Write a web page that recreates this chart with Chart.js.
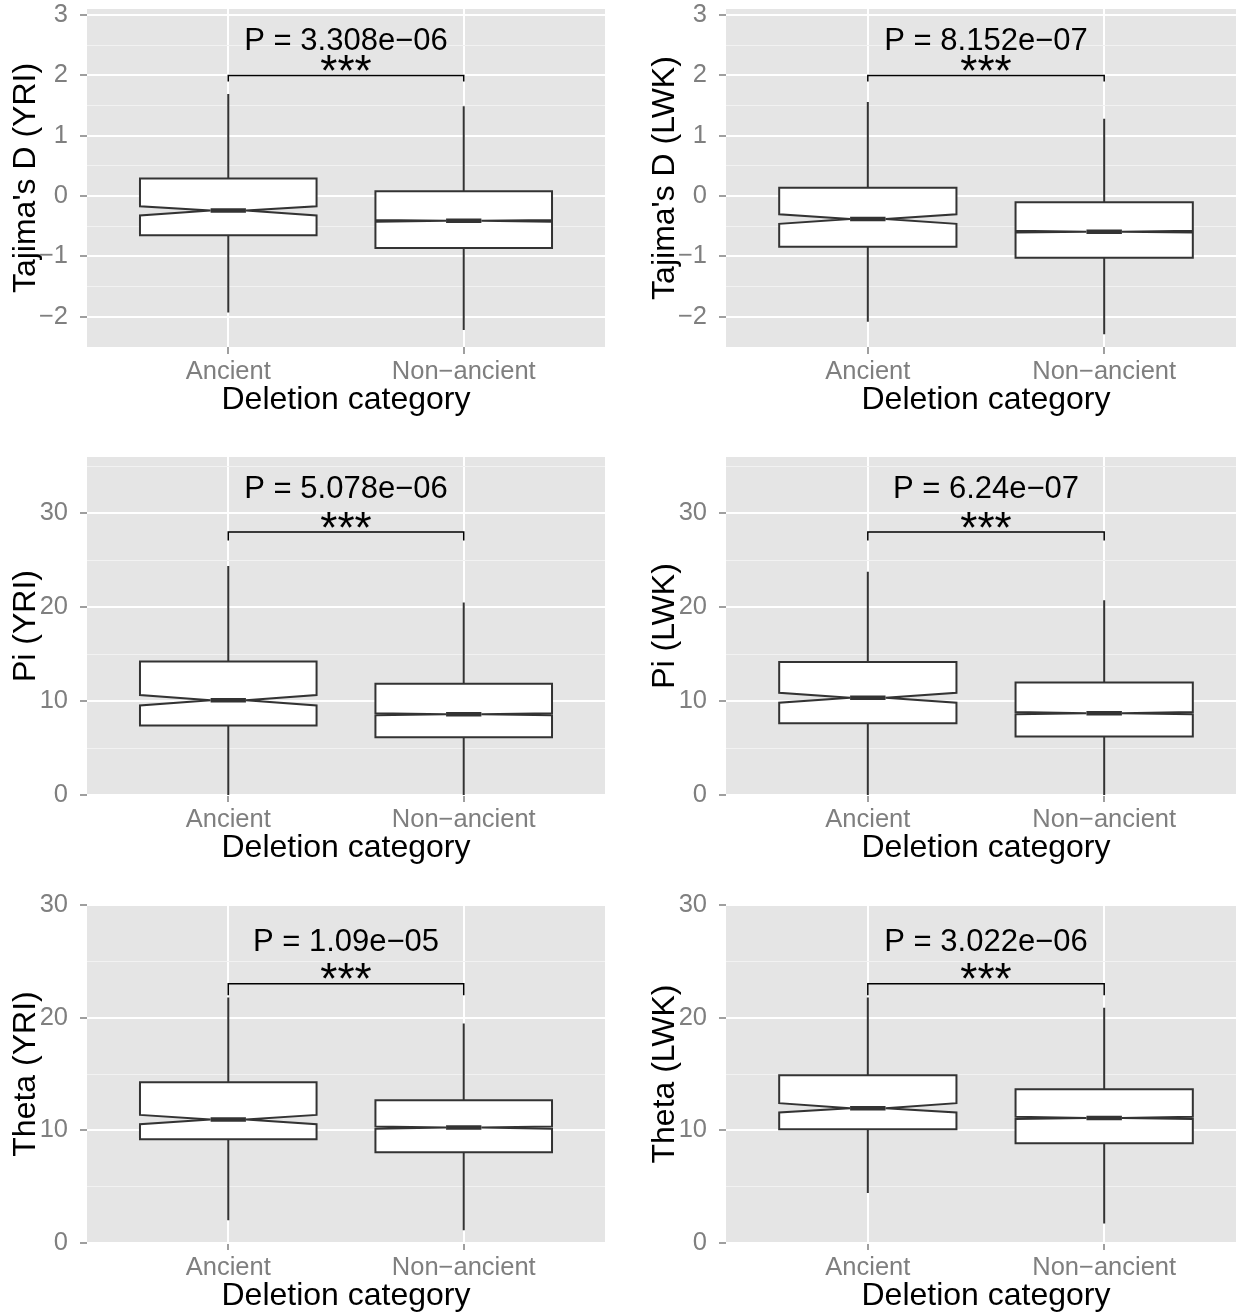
<!DOCTYPE html>
<html>
<head>
<meta charset="utf-8">
<script src="https://cdn.jsdelivr.net/npm/chart.js@4.4.1/dist/chart.umd.min.js"></script>
<style>
  html, body { margin: 0; padding: 0; background: #ffffff; }
  body { width: 1236px; height: 1314px; overflow: hidden; position: relative; }
  canvas { position: absolute; }
</style>
</head>
<body>
<script>
// categories + tick labels
const categories = ["Ancient", "Non\u2212ancient"];
const tajimaTicks = [-2, -1, 0, 1, 2, 3];
const tajimaMinor = [-1.5, -0.5, 0.5, 1.5, 2.5];
const piTicks = [0, 10, 20, 30];
const piMinor = [5, 15, 25, 35];
const thetaTicks = [0, 10, 20, 30];
const thetaMinor = [5, 15, 25];

// box stats: [lower whisker, Q1, notch low, median, notch high, Q3, upper whisker]
const tajimaYriAncient = [-1.93, -0.65, -0.32, -0.24, -0.17, 0.29, 1.69];
const tajimaYriNon = [-2.22, -0.86, -0.425, -0.41, -0.395, 0.08, 1.49];
const tajimaLwkAncient = [-2.08, -0.84, -0.46, -0.38, -0.3, 0.14, 1.56];
const tajimaLwkNon = [-2.29, -1.02, -0.605, -0.59, -0.575, -0.1, 1.28];
const piYriAncient = [0, 7.4, 9.54, 10.1, 10.64, 14.23, 24.4];
const piYriNon = [0, 6.16, 8.5, 8.61, 8.72, 11.85, 20.5];
const piLwkAncient = [0, 7.65, 9.82, 10.36, 10.89, 14.16, 23.77];
const piLwkNon = [0, 6.23, 8.6, 8.72, 8.84, 11.99, 20.75];
const thetaYriAncient = [2.01, 9.21, 10.54, 10.96, 11.37, 14.27, 21.8];
const thetaYriNon = [1.13, 8.05, 10.15, 10.25, 10.35, 12.67, 19.48];
const thetaLwkAncient = [4.44, 10.1, 11.58, 11.96, 12.41, 14.9, 21.8];
const thetaLwkNon = [1.72, 8.85, 11.0, 11.1, 11.2, 13.65, 20.88];

// p-values of the test between the two categories
const pLabels = ["P = 3.308e\u221206", "P = 8.152e\u221207", "P = 5.078e\u221206",
                 "P = 6.24e\u221207", "P = 1.09e\u221205", "P = 3.022e\u221206"];
const starLabel = "***";

const FONT = "'Liberation Sans', Arial, Helvetica, sans-serif";
Chart.defaults.font.family = FONT;

const panels = [
  { title: "Tajima's D (YRI)", boxes: [tajimaYriAncient, tajimaYriNon], p: pLabels[0], major: tajimaTicks, minor: tajimaMinor, min: -2.5, max: 3.1, bracket: 2, drop: 0.1, starY: 2.16, pY: 2.61 },
  { title: "Tajima's D (LWK)", boxes: [tajimaLwkAncient, tajimaLwkNon], p: pLabels[1], major: tajimaTicks, minor: tajimaMinor, min: -2.5, max: 3.1, bracket: 2, drop: 0.1, starY: 2.16, pY: 2.61 },
  { title: "Pi (YRI)", boxes: [piYriAncient, piYriNon], p: pLabels[2], major: piTicks, minor: piMinor, min: 0, max: 36, bracket: 28, drop: 0.9, starY: 29.0, pY: 32.8 },
  { title: "Pi (LWK)", boxes: [piLwkAncient, piLwkNon], p: pLabels[3], major: piTicks, minor: piMinor, min: 0, max: 36, bracket: 28, drop: 0.9, starY: 29.0, pY: 32.8 },
  { title: "Theta (YRI)", boxes: [thetaYriAncient, thetaYriNon], p: pLabels[4], major: thetaTicks, minor: thetaMinor, min: 0, max: 30, bracket: 23, drop: 1.0, starY: 23.84, pY: 26.86 },
  { title: "Theta (LWK)", boxes: [thetaLwkAncient, thetaLwkNon], p: pLabels[5], major: thetaTicks, minor: thetaMinor, min: 0, max: 30, bracket: 23, drop: 1.0, starY: 23.84, pY: 26.86 },
];

function fmt(v) {
  return v < 0 ? "\u2212" + Math.abs(v) : String(v);
}

// grey panel + notched boxes + significance bracket
const boxPlugin = {
  id: "notchedBox",
  beforeDraw(chart) {
    const a = chart.chartArea;
    const ctx = chart.ctx;
    ctx.save();
    ctx.fillStyle = "#E5E5E5";
    ctx.fillRect(a.left, a.top, a.right - a.left, a.bottom - a.top);
    ctx.restore();
  },
  afterDatasetsDraw(chart) {
    const cfg = chart.options.plugins.notchedBox;
    const xs = chart.scales.x;
    const ys = chart.scales.y;
    const ctx = chart.ctx;
    ctx.save();
    cfg.boxes.forEach((b, i) => {
      const xc = xs.getPixelForValue(i + 1);
      const hw = xs.getPixelForValue(i + 1 + 0.375) - xc;
      const nw = hw * 0.2;
      const xl = xc - hw, xr = xc + hw;
      const y = b.map((v) => ys.getPixelForValue(v));
      ctx.strokeStyle = "#333333";
      ctx.lineWidth = 2;
      // whiskers
      ctx.beginPath();
      ctx.moveTo(xc, y[6]); ctx.lineTo(xc, y[5]);
      ctx.moveTo(xc, y[1]); ctx.lineTo(xc, y[0]);
      ctx.stroke();
      // notched box
      ctx.beginPath();
      ctx.moveTo(xl, y[5]);
      ctx.lineTo(xr, y[5]);
      ctx.lineTo(xr, y[4]);
      ctx.lineTo(xc + nw, y[3]);
      ctx.lineTo(xr, y[2]);
      ctx.lineTo(xr, y[1]);
      ctx.lineTo(xl, y[1]);
      ctx.lineTo(xl, y[2]);
      ctx.lineTo(xc - nw, y[3]);
      ctx.lineTo(xl, y[4]);
      ctx.closePath();
      ctx.fillStyle = "#FFFFFF";
      ctx.fill();
      ctx.stroke();
      // median
      ctx.lineWidth = 4.5;
      ctx.beginPath();
      ctx.moveTo(xc - nw, y[3]);
      ctx.lineTo(xc + nw, y[3]);
      ctx.stroke();
    });
    // bracket
    const x1 = xs.getPixelForValue(1);
    const x2 = xs.getPixelForValue(2);
    const yb = ys.getPixelForValue(cfg.bracket);
    const yd = ys.getPixelForValue(cfg.bracket - cfg.drop);
    ctx.strokeStyle = "#000000";
    ctx.lineWidth = 1.5;
    ctx.beginPath();
    ctx.moveTo(x1, yd); ctx.lineTo(x1, yb); ctx.lineTo(x2, yb); ctx.lineTo(x2, yd);
    ctx.stroke();
    // labels
    const xm = (x1 + x2) / 2;
    ctx.fillStyle = "#000000";
    ctx.textAlign = "center";
    ctx.textBaseline = "alphabetic";
    ctx.font = "31px " + FONT;
    ctx.fillText(cfg.p, xm, ys.getPixelForValue(cfg.pY) + 31 * 0.358);
    ctx.font = "44px " + FONT;
    ctx.fillText(starLabel, xm, ys.getPixelForValue(cfg.starY) + 44 * 0.45);
    ctx.restore();
  },
};

panels.forEach((pn, k) => {
  const col = k % 2;
  const row = Math.floor(k / 2);
  const cv = document.createElement("canvas");
  const w = col === 0 ? 618 : 628;
  cv.width = w;
  cv.height = 468;
  cv.style.left = (col === 0 ? 0 : 618) + "px";
  cv.style.top = row * 448 - 20 + "px";
  document.body.appendChild(cv);

  const allTicks = pn.major.concat(pn.minor).sort((a, b) => a - b);
  const isMajor = (v) => pn.major.indexOf(v) !== -1;

  new Chart(cv.getContext("2d"), {
    type: "scatter",
    data: {
      datasets: [{
        data: pn.boxes.map((b, i) => ({ x: i + 1, y: b[3] })),
        pointRadius: 0,
        showLine: false,
      }],
    },
    options: {
      responsive: false,
      animation: false,
      devicePixelRatio: 1,
      layout: { padding: { top: 29, bottom: 0, left: col === 0 ? 0 : 21, right: col === 0 ? 13 : 0 } },
      plugins: {
        legend: { display: false },
        tooltip: { enabled: false },
        notchedBox: { boxes: pn.boxes, p: pn.p, bracket: pn.bracket, drop: pn.drop, starY: pn.starY, pY: pn.pY },
      },
      scales: {
        x: {
          type: "linear",
          min: 0.4,
          max: 2.6,
          afterBuildTicks: (s) => { s.ticks = [{ value: 1 }, { value: 2 }]; },
          afterFit: (s) => { s.height = 101; s.paddingLeft = 0; s.paddingRight = 0; },
          border: { display: false },
          grid: { color: "#FFFFFF", lineWidth: 2, tickColor: "#7F7F7F", tickLength: 7, tickWidth: 1.5 },
          ticks: {
            color: "#7F7F7F",
            font: { size: 25.5 },
            padding: 3,
            maxRotation: 0,
            autoSkip: false,
            callback: (v) => categories[Math.round(v) - 1],
          },
          title: { display: true, text: "Deletion category", color: "#000000", font: { size: 32 }, padding: { top: 0, bottom: 29 } },
        },
        y: {
          type: "linear",
          min: pn.min,
          max: pn.max,
          afterBuildTicks: (s) => { s.ticks = allTicks.map((v) => ({ value: v })); },
          afterFit: (s) => { s.width = 87; s.paddingTop = 0; s.paddingBottom = 0; },
          border: { display: false },
          grid: {
            color: (c) => (isMajor(c.tick.value) ? "#FFFFFF" : "#F2F2F2"),
            lineWidth: (c) => (isMajor(c.tick.value) ? 2 : 1),
            tickColor: (c) => (isMajor(c.tick.value) ? "#7F7F7F" : "rgba(0,0,0,0)"),
            tickLength: 7,
            tickWidth: 1.5,
          },
          ticks: {
            color: "#7F7F7F",
            font: { size: 25.5 },
            padding: 12,
            autoSkip: false,
            callback: (v) => (isMajor(v) ? fmt(v) : ""),
          },
          title: { display: true, text: pn.title, color: "#000000", font: { size: 32 }, padding: { top: 7, bottom: 0 } },
        },
      },
    },
    plugins: [boxPlugin],
  });
});
</script>
</body>
</html>
